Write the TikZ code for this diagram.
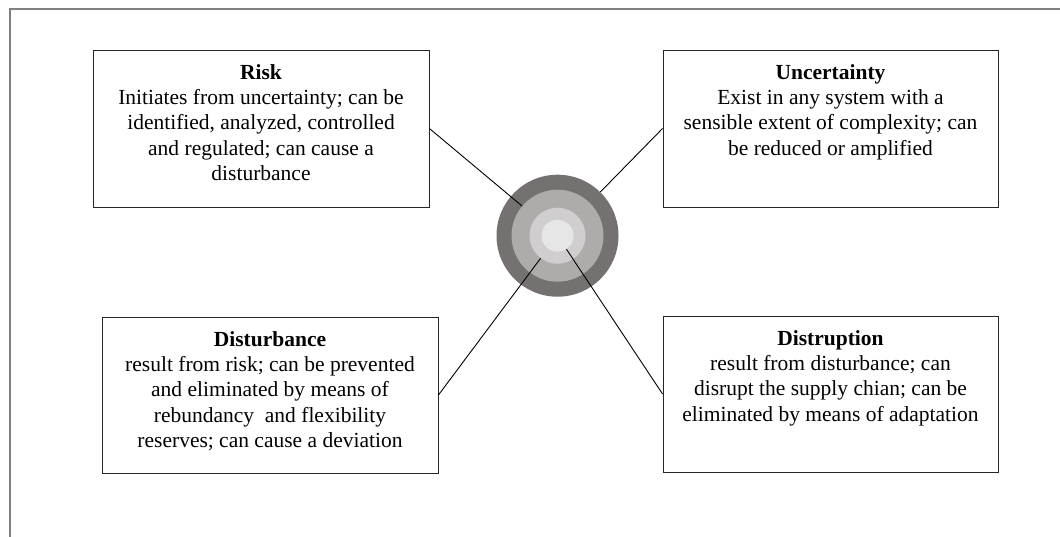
\documentclass[tikz,border=0pt]{standalone}
\usepackage{fontspec}
\setmainfont{Liberation Serif}
\definecolor{ringA}{HTML}{767171}
\definecolor{ringB}{HTML}{AEABAB}
\definecolor{ringC}{HTML}{D0CECE}
\definecolor{ringD}{HTML}{E7E6E6}
\definecolor{framegray}{HTML}{7F7F7F}
\begin{document}
\begin{tikzpicture}[x=1pt,y=-1pt,
  infobox/.style={draw=black!85, line width=0.9pt, minimum height=156pt, inner sep=0pt, fill=white},
  infotext/.style={anchor=north, align=center, inner sep=0pt,
    font=\fontsize{21.5}{25.3}\selectfont},
  ring/.style={circle, draw=none, inner sep=0pt},
  link/.style={draw=black, line width=0.9pt}]
\useasboundingbox (0,0) rectangle (1060,536);
% outer frame
\draw[framegray, line width=1.4pt] (10,540) -- (10,9) -- (1065,9);

% central rings
\node[ring, fill=ringA, minimum size=122pt] (ringA) at (557.5,235.7) {};
\node[ring, fill=ringB, minimum size=92pt]  (ringB) at (557.5,235.7) {};
\node[ring, fill=ringC, minimum size=56pt]  (ringC) at (557.5,235.7) {};
\node[ring, fill=ringD, minimum size=32pt]  (ringD) at (557.5,235.7) {};

% boxes
\node[infobox, minimum width=336pt, minimum height=157pt] (risk) at (261,128.5) {};
\node[infotext] (risktxt) at ([yshift=-14.5pt]risk.north)
  {\textbf{Risk}\\Initiates from uncertainty; can be\\identified, analyzed, controlled\\and regulated; can cause a\\disturbance};

\node[infobox, minimum width=335pt, minimum height=157pt] (unc) at (830.5,128.5) {};
\node[infotext] (unctxt) at ([yshift=-14.5pt]unc.north)
  {\textbf{Uncertainty}\\Exist in any system with a\\sensible extent of complexity; can\\be reduced or amplified};

\node[infobox, minimum width=336pt] (dist) at (270,395) {};
\node[infotext] (disttxt) at ([yshift=-14.5pt]dist.north)
  {\textbf{Disturbance}\\result from risk; can be prevented\\and eliminated by means of\\rebundancy\ \ and flexibility\\reserves; can cause a deviation};

\node[infobox, minimum width=335pt] (disr) at (830.5,394) {};
\node[infotext] (disrtxt) at ([yshift=-14.5pt]disr.north)
  {\textbf{Distruption}\\result from disturbance; can\\disrupt the supply chian; can be\\eliminated by means of adaptation};

% connectors
\draw[link] (risk.east) -- (ringB);
\draw[link] (unc.west) -- (ringA);
\draw[link] (dist.east) -- (ringC);
\draw[link] (disr.west) -- (ringD);
\end{tikzpicture}
\end{document}
